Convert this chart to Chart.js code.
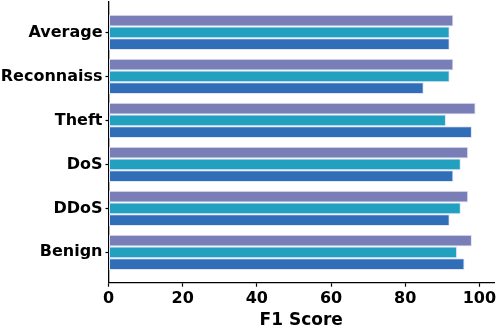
<!DOCTYPE html>
<html>
<head>
<meta charset="utf-8">
<script src="https://cdn.jsdelivr.net/npm/chart.js@4/dist/chart.umd.min.js"></script>
<style>
  html, body { margin: 0; padding: 0; background: #ffffff; }
  #wrap { width: 498px; height: 327px; }
</style>
</head>
<body>
<div id="wrap"><canvas id="c" width="498" height="327"></canvas></div>
<script>
// Categories from top to bottom
const categories = ['Average', 'Reconnaiss', 'Theft', 'DoS', 'DDoS', 'Benign'];
// Series values (F1 score), top bar / middle bar / bottom bar of each group
const seriesTop = [93, 93, 99, 97, 97, 98];
const seriesMid = [92, 92, 91, 95, 95, 94];
const seriesBot = [92, 85, 98, 93, 92, 96];
const xTicks = [0, 20, 40, 60, 80, 100];
const xLabel = 'F1 Score';

const FONT = "'DejaVu Sans', sans-serif";
const toPoints = arr => arr.map((v, i) => ({ x: v, y: i }));
const edge = 'rgba(228,228,248,1)';

new Chart(document.getElementById('c'), {
  type: 'bar',
  data: {
    datasets: [
      { data: toPoints(seriesTop), backgroundColor: '#7a7eb6', borderColor: edge, borderWidth: 1, borderSkipped: false },
      { data: toPoints(seriesMid), backgroundColor: '#21a0bf', borderColor: edge, borderWidth: 1, borderSkipped: false },
      { data: toPoints(seriesBot), backgroundColor: '#316eb8', borderColor: edge, borderWidth: 1, borderSkipped: false }
    ]
  },
  options: {
    indexAxis: 'y',
    responsive: false,
    animation: false,
    devicePixelRatio: 1,
    categoryPercentage: 0.8,
    barPercentage: 1.0,
    layout: { padding: { top: 2, right: 4, left: 0, bottom: 0 } },
    plugins: { legend: { display: false }, tooltip: { enabled: false } },
    scales: {
      x: {
        type: 'linear',
        min: 0,
        max: 103.95,
        offset: false,
        afterBuildTicks: s => { s.ticks = xTicks.map(v => ({ value: v })); },
        afterFit: s => { s.height = 44.3; s.paddingLeft = 0; s.paddingRight = 0; },
        ticks: {
          color: '#000',
          font: { family: FONT, size: 16, weight: 'bold' },
          padding: 3,
          maxRotation: 0,
          autoSkip: false
        },
        grid: { drawOnChartArea: false, drawTicks: true, tickLength: 4, tickWidth: 1.2, color: '#000', offset: false },
        border: { display: true, color: '#000', width: 1.3 },
        title: {
          display: true,
          text: xLabel,
          color: '#000',
          font: { family: FONT, size: 17, weight: 'bold', lineHeight: 1.0 },
          padding: { top: 0, bottom: -2 }
        }
      },
      y: {
        type: 'linear',
        reverse: true,
        min: -0.69,
        max: 5.69,
        offset: false,
        afterBuildTicks: s => { s.ticks = categories.map((_, i) => ({ value: i })); },
        afterFit: s => { s.width = 108.5; s.paddingTop = 0; s.paddingBottom = 0; },
        ticks: {
          color: '#000',
          font: { family: FONT, size: 16, weight: 'bold' },
          padding: 3,
          autoSkip: false,
          callback: v => categories[v]
        },
        grid: { drawOnChartArea: false, drawTicks: true, tickLength: 3, tickWidth: 1.2, color: '#000', offset: false },
        border: { display: true, color: '#000', width: 1.3 }
      }
    }
  }
});
</script>
</body>
</html>
